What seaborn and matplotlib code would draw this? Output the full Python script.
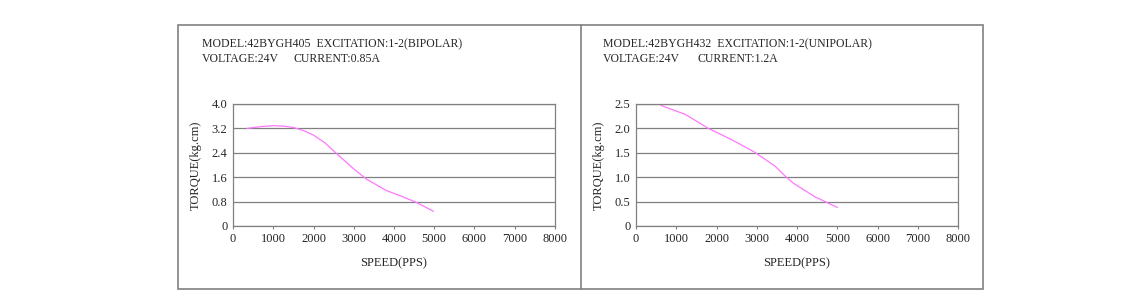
import pandas as pd
import seaborn as sns
import matplotlib.pyplot as plt
from matplotlib.patches import Rectangle
from matplotlib.lines import Line2D

# curve (42BYGH405, bipolar)
speed_405 = [350, 700, 1000, 1300, 1500, 1750, 2000, 2270, 2560, 2975, 3300, 3800, 4215, 4545, 4983]
torque_405 = [3.20, 3.26, 3.29, 3.27, 3.23, 3.13, 2.98, 2.74, 2.39, 1.90, 1.55, 1.17, 0.96, 0.78, 0.48]

# curve (42BYGH432, unipolar)
speed_432 = [620, 1216, 1500, 1795, 2374, 2953, 3450, 3697, 3904, 4442, 5004]
torque_432 = [2.47, 2.29, 2.15, 2.00, 1.77, 1.51, 1.23, 1.03, 0.88, 0.60, 0.38]

x_ticks = [0, 1000, 2000, 3000, 4000, 5000, 6000, 7000, 8000]
y_ticks_405 = [0, 0.8, 1.6, 2.4, 3.2, 4.0]
y_labels_405 = ["0", "0.8", "1.6", "2.4", "3.2", "4.0"]
y_ticks_432 = [0, 0.5, 1.0, 1.5, 2.0, 2.5]
y_labels_432 = ["0", "0.5", "1.0", "1.5", "2.0", "2.5"]

header_405 = ("MODEL:42BYGH405  EXCITATION:1-2(BIPOLAR)", "VOLTAGE:24V", "CURRENT:0.85A")
header_432 = ("MODEL:42BYGH432  EXCITATION:1-2(UNIPOLAR)", "VOLTAGE:24V", "CURRENT:1.2A")

sns.set_style("white")
plt.rcParams["font.family"] = ["Liberation Serif", "DejaVu Serif"]

W, H = 1142, 302
fig = plt.figure(figsize=(W / 100, H / 100), dpi=100)

gray = "#808080"
curve = "#ff77ff"

# outer frame and the divider between the two charts
fig.add_artist(Rectangle((178 / W, 1 - 289 / H), (983 - 178) / W, (289 - 25) / H,
                         transform=fig.transFigure, fill=False, ec=gray, lw=1.2))
fig.add_artist(Line2D([581 / W, 581 / W], [1 - 289 / H, 1 - 25 / H],
                      transform=fig.transFigure, color=gray, lw=1.2))

panels = [
    (233, speed_405, torque_405, y_ticks_405, y_labels_405, header_405, 202, 294),
    (636, speed_432, torque_432, y_ticks_432, y_labels_432, header_432, 603, 697),
]

for left_px, xs, ys, yt, yl, header, tx, cx in panels:
    ax = fig.add_axes([left_px / W, 1 - 226 / H, 322 / W, 122 / H])
    df = pd.DataFrame({"speed": xs, "torque": ys})
    sns.lineplot(data=df, x="speed", y="torque", ax=ax, color=curve, lw=0.9)
    ax.set_xlim(0, 8000)
    ax.set_ylim(yt[0], yt[-1])
    ax.set_xticks(x_ticks)
    ax.set_xticklabels([str(t) for t in x_ticks], fontsize=9)
    ax.set_yticks(yt)
    ax.set_yticklabels(yl, fontsize=9)
    ax.yaxis.grid(True, color=gray, lw=0.9)
    ax.xaxis.grid(False)
    for s in ax.spines.values():
        s.set_color(gray)
        s.set_linewidth(0.9)
    ax.tick_params(axis="x", length=2, color=gray, pad=3, direction="out", bottom=True)
    ax.tick_params(axis="y", length=0, pad=4)
    ax.set_xlabel("SPEED(PPS)", fontsize=9, labelpad=9)
    ax.set_ylabel("TORQUE(kg.cm)", fontsize=9, labelpad=7)

    fig.text(tx / W, 1 - 44 / H, header[0], fontsize=8.5, va="center", ha="left")
    fig.text(tx / W, 1 - 59 / H, header[1], fontsize=8.5, va="center", ha="left")
    fig.text(cx / W, 1 - 59 / H, header[2], fontsize=8.5, va="center", ha="left")

fig.savefig("out.png", dpi=100, facecolor="white")
